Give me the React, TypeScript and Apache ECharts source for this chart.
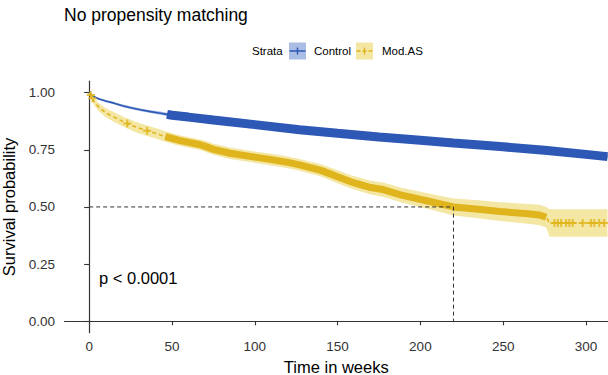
import React, { useEffect, useRef } from "react";
import * as echarts from "echarts";

// ---------- data ----------
const xTicks = [0, 50, 100, 150, 200, 250, 300];
const yTicks = [0, 0.25, 0.5, 0.75, 1.0];

const controlTime = [0, 2, 6, 10, 15, 20, 25, 31, 37, 43, 47, 50, 60, 75, 100, 127, 150, 175, 200, 220, 250, 275, 300, 313];
const controlSurv = [1.0, 0.985, 0.972, 0.963, 0.954, 0.943, 0.934, 0.925, 0.917, 0.91, 0.905, 0.901, 0.893, 0.88, 0.86, 0.838, 0.822, 0.806, 0.792, 0.78, 0.763, 0.748, 0.73, 0.72];
const controlUpper = [1.0, 0.988, 0.976, 0.968, 0.959, 0.949, 0.94, 0.931, 0.923, 0.917, 0.912, 0.908, 0.9, 0.887, 0.867, 0.846, 0.83, 0.814, 0.8, 0.789, 0.773, 0.758, 0.741, 0.732];
const controlLower = [1.0, 0.982, 0.968, 0.958, 0.949, 0.937, 0.928, 0.919, 0.911, 0.903, 0.898, 0.894, 0.886, 0.873, 0.853, 0.83, 0.814, 0.798, 0.784, 0.771, 0.753, 0.738, 0.719, 0.708];
const controlDenseStart = 47;

const modTime = [0, 3, 6, 10, 15, 22, 28, 35, 41, 46, 55, 67, 70, 75, 85, 100, 110, 120, 127, 140, 150, 158, 170, 178, 188, 205, 220, 235, 248, 265, 272, 276, 278, 313];
const modSurv = [1.0, 0.96, 0.935, 0.912, 0.893, 0.868, 0.85, 0.833, 0.82, 0.808, 0.79, 0.772, 0.765, 0.752, 0.735, 0.718, 0.707, 0.695, 0.684, 0.66, 0.632, 0.61, 0.585, 0.575, 0.553, 0.525, 0.5, 0.49, 0.48, 0.47, 0.465, 0.455, 0.43, 0.43];
const modUpper = [1.0, 0.975, 0.953, 0.932, 0.914, 0.89, 0.873, 0.856, 0.843, 0.831, 0.813, 0.795, 0.789, 0.776, 0.76, 0.743, 0.733, 0.721, 0.71, 0.687, 0.66, 0.639, 0.615, 0.606, 0.585, 0.559, 0.537, 0.529, 0.521, 0.513, 0.51, 0.5, 0.49, 0.49];
const modLower = [1.0, 0.945, 0.917, 0.892, 0.872, 0.846, 0.827, 0.81, 0.797, 0.785, 0.767, 0.749, 0.741, 0.728, 0.71, 0.693, 0.681, 0.669, 0.658, 0.633, 0.604, 0.581, 0.555, 0.544, 0.521, 0.491, 0.463, 0.451, 0.439, 0.427, 0.42, 0.41, 0.37, 0.37];
const modDenseStart = 46;
const modDenseEnd = 276;
const modCensorTime = [1, 2, 23, 35, 281, 283, 285, 288, 290, 292, 298, 303, 305, 308, 311];
const modCensorSurv = [0.99, 0.975, 0.865, 0.833, 0.43, 0.43, 0.43, 0.43, 0.43, 0.43, 0.43, 0.43, 0.43, 0.43, 0.43];

const medianTime = 220;
const medianSurv = 0.5;

const titleText = "No propensity matching";
const pText = "p < 0.0001";
const legendTitle = "Strata";
const groupNames = ["Control", "Mod.AS"];

// ---------- styles ----------
const FONT = "'Liberation Sans', Arial, Helvetica, sans-serif";
const BLUE = "#2E58B5";
const BLUE_LIGHT = "#A9BDE5";
const YELLOW = "#E0B41C";
const YELLOW_LIGHT = "#F4E7A3";
const AXIS = "#333333";
const PLUS = "path://M3,0H5V3H8V5H5V8H3V5H0V3H3Z";

const zip = (a: number[], b: number[]) => a.map((v, i) => [v, b[i]]);

function bandSeries(time: number[], upper: number[], lower: number[], fill: string, z: number) {
  return {
    type: "custom",
    coordinateSystem: "cartesian2d",
    silent: true,
    z,
    data: [[time[0], upper[0]]],
    encode: { x: 0, y: 1 },
    renderItem: (_p: any, api: any) => {
      const pts: number[][] = [];
      for (let i = 0; i < time.length; i++) pts.push(api.coord([time[i], upper[i]]));
      for (let i = time.length - 1; i >= 0; i--) pts.push(api.coord([time[i], lower[i]]));
      return { type: "polygon", shape: { points: pts }, style: { fill, stroke: null } };
    },
  };
}

export default function App() {
  const ref = useRef<HTMLDivElement>(null);

  useEffect(() => {
    if (!ref.current) return;
    const chart = echarts.init(ref.current, undefined, { renderer: "svg" });

    const controlData = zip(controlTime, controlSurv);
    const modData = zip(modTime, modSurv);

    chart.setOption({
      animation: false,
      backgroundColor: "#ffffff",
      textStyle: { fontFamily: FONT },
      title: {
        text: titleText,
        left: 64,
        top: 6,
        padding: 0,
        textStyle: { fontFamily: FONT, fontSize: 17.5, fontWeight: "normal", color: "#000" },
      },
      grid: { left: 64.5, right: 0, top: 81.2, bottom: 42.3, outerBoundsMode: "none", containLabel: false },
      xAxis: {
        type: "value",
        min: -14.9,
        max: 313.3,
        name: "Time in weeks",
        nameLocation: "middle",
        nameGap: 24,
        nameTextStyle: { fontFamily: FONT, fontSize: 16.5, color: "#000" },
        axisLine: { show: true, lineStyle: { color: AXIS, width: 1.2 } },
        axisTick: { show: true, length: 4, lineStyle: { color: AXIS, width: 1.1 }, customValues: xTicks },
        axisLabel: { fontFamily: FONT, fontSize: 13.5, color: "#333", margin: 7, customValues: xTicks },
        splitLine: { show: false },
      },
      yAxis: {
        type: "value",
        min: -0.05,
        max: 1.05,
        name: "Survival probability",
        nameLocation: "middle",
        nameGap: 37,
        nameTextStyle: { fontFamily: FONT, fontSize: 16.5, color: "#000" },
        axisLine: { show: true, lineStyle: { color: AXIS, width: 1.2 } },
        axisTick: { show: true, length: 5, lineStyle: { color: AXIS, width: 1.1 }, customValues: yTicks },
        axisLabel: {
          fontFamily: FONT,
          fontSize: 13.5,
          color: "#333",
          margin: 9.5,
          customValues: yTicks,
          formatter: (v: number) => v.toFixed(2),
        },
        splitLine: { show: false },
      },
      graphic: [
        {
          type: "text",
          left: 99,
          top: 269,
          style: { text: pText, fontFamily: FONT, fontSize: 16.5, fill: "#000" },
        },
        {
          type: "text",
          x: 252,
          y: 51,
          style: { text: legendTitle, fontFamily: FONT, fontSize: 11.5, fill: "#000", verticalAlign: "middle" },
        },
        { type: "rect", shape: { x: 289, y: 42.5, width: 17, height: 17 }, style: { fill: BLUE_LIGHT } },
        { type: "line", shape: { x1: 289.5, y1: 51, x2: 305.5, y2: 51 }, style: { stroke: BLUE, lineWidth: 1.5 } },
        { type: "line", shape: { x1: 297.5, y1: 47.5, x2: 297.5, y2: 54.5 }, style: { stroke: BLUE, lineWidth: 1.5 } },
        {
          type: "text",
          x: 314,
          y: 51,
          style: { text: groupNames[0], fontFamily: FONT, fontSize: 11.5, fill: "#000", verticalAlign: "middle" },
        },
        { type: "rect", shape: { x: 356, y: 42.5, width: 17, height: 17 }, style: { fill: YELLOW_LIGHT } },
        {
          type: "line",
          shape: { x1: 356.5, y1: 51, x2: 372.5, y2: 51 },
          style: { stroke: YELLOW, lineWidth: 1.5, lineDash: [4, 2] },
        },
        { type: "line", shape: { x1: 364.5, y1: 47.5, x2: 364.5, y2: 54.5 }, style: { stroke: YELLOW, lineWidth: 1.5 } },
        {
          type: "text",
          x: 382,
          y: 51,
          style: { text: groupNames[1], fontFamily: FONT, fontSize: 11.5, fill: "#000", verticalAlign: "middle" },
        },
      ],
      series: [
        bandSeries(modTime, modUpper, modLower, YELLOW_LIGHT, 1),
        bandSeries(controlTime, controlUpper, controlLower, BLUE_LIGHT, 1),
        {
          type: "line",
          name: groupNames[0],
          data: controlData,
          symbol: "none",
          lineStyle: { color: BLUE, width: 1.6 },
          z: 3,
          silent: true,
        },
        {
          type: "line",
          data: controlData.filter((d) => d[0] >= controlDenseStart),
          symbol: "none",
          lineStyle: { color: BLUE, width: 9 },
          z: 3,
          silent: true,
        },
        {
          type: "line",
          name: groupNames[1],
          data: modData,
          symbol: "none",
          lineStyle: { color: YELLOW, width: 1.6, type: [4, 3] },
          z: 4,
          silent: true,
        },
        {
          type: "line",
          data: modData.filter((d) => d[0] >= modDenseStart && d[0] <= modDenseEnd),
          symbol: "none",
          lineStyle: { color: YELLOW, width: 7 },
          z: 4,
          silent: true,
        },
        {
          type: "scatter",
          data: zip(modCensorTime, modCensorSurv),
          symbol: PLUS,
          symbolSize: 8,
          itemStyle: { color: YELLOW },
          z: 5,
          silent: true,
        },
        {
          type: "line",
          data: [
            [0, medianSurv],
            [medianTime, medianSurv],
            [medianTime, 0],
          ],
          symbol: "none",
          lineStyle: { color: AXIS, width: 1, type: [4, 3] },
          z: 6,
          silent: true,
        },
      ],
    });

    return () => chart.dispose();
  }, []);

  return <div ref={ref} style={{ position: "absolute", left: 0, top: 0, width: 608, height: 375 }} />;
}
